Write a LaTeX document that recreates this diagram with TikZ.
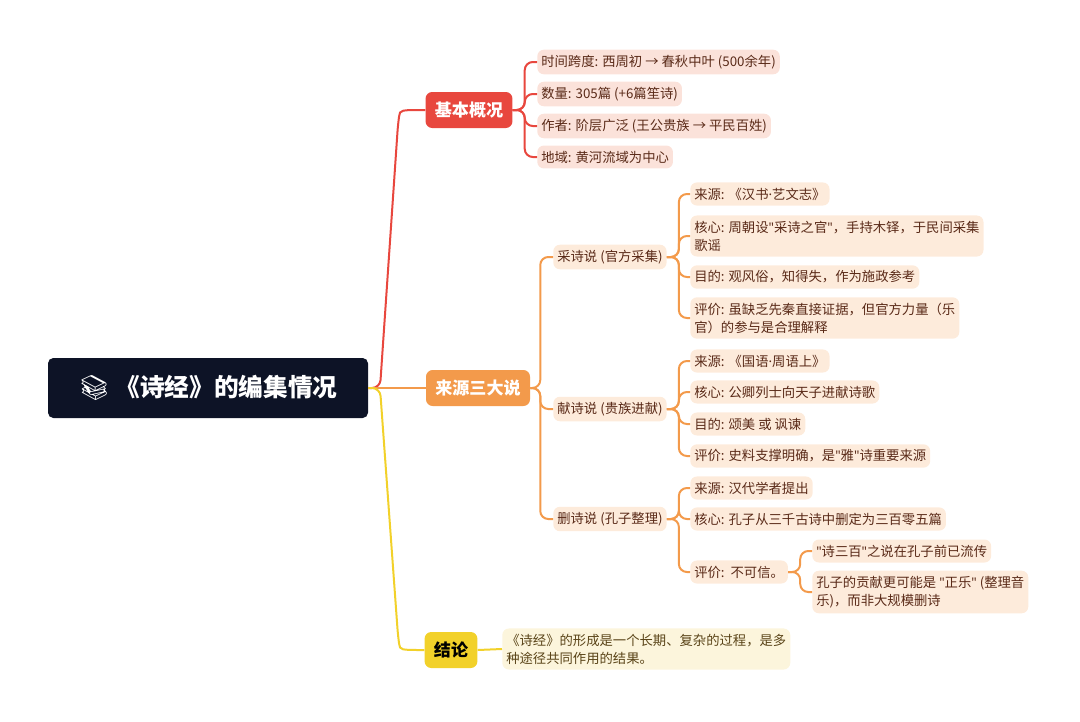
\documentclass[tikz,border=0pt]{standalone}
\usepackage{fontspec}
\setmainfont{Noto Sans CJK SC}
\newfontfamily\emojifont{Noto Emoji}
\newfontfamily\latinfont{Noto Sans}
\newcommand{\qq}{{\latinfont "}}
\newcommand{\dotsep}{{\latinfont ·}}
\definecolor{rootbg}{HTML}{0D1326}
\definecolor{redb}{HTML}{E8473E}
\definecolor{orangeb}{HTML}{F39A4B}
\definecolor{yellowb}{HTML}{F2D12A}
\definecolor{pinkleaf}{HTML}{FBE2DA}
\definecolor{peachleaf}{HTML}{FDEBDB}
\definecolor{creamleaf}{HTML}{FCF5DC}
\definecolor{leaftext}{HTML}{5A2A18}
\definecolor{concltext}{HTML}{5A4418}

\begin{document}
\begin{tikzpicture}[x=0.75pt,y=-0.75pt]
\tikzset{
% root and the three main branches
root node/.style={fill=rootbg,text=white,rounded corners=4pt,minimum width=240pt,minimum height=45pt,font=\fontsize{18.5}{22}\selectfont\bfseries},
branch node/.style={rounded corners=5pt,text=white,minimum height=27pt,inner xsep=7pt,font=\fontsize{12.8}{15}\selectfont\bfseries},
% leaves of each branch
leaf node/.style={anchor=west,rounded corners=5pt,text=leaftext,inner xsep=3pt,inner ysep=4pt,align=left,font=\fontsize{10}{13.5}\selectfont},
red leaf/.style={leaf node,fill=pinkleaf},
orange leaf/.style={leaf node,fill=peachleaf},
link/.style={line width=1.5pt,rounded corners=6pt}
}
\useasboundingbox (0,0) rectangle (1080,721);

% main nodes
\node (root)[root node] at (208,388) {{\emojifont 📚} 《诗经》的编集情况};
\node (j)[branch node,fill=redb] at (469,110) {基本概况};
\node (ly)[branch node,fill=orangeb] at (478,388) {来源三大说};
\node (jl)[branch node,fill=yellowb,text=black] at (451,650) {结论};

% basic facts
\node (j1)[red leaf] at (537,62) {时间跨度: 西周初 → 春秋中叶 (500余年)};
\node (j2)[red leaf] at (537,94) {数量: 305篇 (+6篇笙诗)};
\node (j3)[red leaf] at (537,126) {作者: 阶层广泛 (王公贵族 → 平民百姓)};
\node (j4)[red leaf] at (537,157) {地域: 黄河流域为中心};

% three theories
\node (c)[orange leaf] at (553,257) {采诗说 (官方采集)};
\node (x)[orange leaf] at (553,409) {献诗说 (贵族进献)};
\node (s)[orange leaf] at (553,519) {删诗说 (孔子整理)};

\node (c1)[orange leaf] at (690,194) {来源: 《汉书\dotsep 艺文志》};
\node (c2)[orange leaf] at (690,236) {核心: 周朝设\qq 采诗之官\qq ，手持木铎，于民间采集\\歌谣};
\node (c3)[orange leaf] at (690,277) {目的: 观风俗，知得失，作为施政参考};
\node (c4)[orange leaf] at (690,318) {评价: 虽缺乏先秦直接证据，但官方力量（乐\\官）的参与是合理解释};

\node (x1)[orange leaf] at (690,361) {来源: 《国语\dotsep 周语上》};
\node (x2)[orange leaf] at (690,392) {核心: 公卿列士向天子进献诗歌};
\node (x3)[orange leaf] at (690,424) {目的: 颂美 或 讽谏};
\node (x4)[orange leaf] at (690,456) {评价: 史料支撑明确，是\qq 雅\qq 诗重要来源};

\node (s1)[orange leaf] at (690,488) {来源: 汉代学者提出};
\node (s2)[orange leaf] at (690,519) {核心: 孔子从三千古诗中删定为三百零五篇};
\node (s3)[orange leaf] at (690,572) {评价:\ \ 不可信。};
\node (s31)[orange leaf] at (812,551) {\qq 诗三百\qq 之说在孔子前已流传};
\node (s32)[orange leaf] at (812,592) {孔子的贡献更可能是 \qq 正乐\qq\ (整理音\\乐)，而非大规模删诗};

% conclusion
\node (jl1)[leaf node,fill=creamleaf,text=concltext] at (502,649) {《诗经》的形成是一个长期、复杂的过程，是多\\种途径共同作用的结果。};

% root connectors
\draw[link,redb] (root.east) -- (380,388) -- (398,124) .. controls (400,110) .. (j.west);
\draw[link,orangeb] (root.east) -- (ly.west);
\draw[link,yellowb] (root.east) -- (380,388) -- (398,636) .. controls (400,650) .. (jl.west);

% branch connectors
\foreach \n in {j1,j2,j3,j4}
  \draw[link,redb] (j.east) -- ++(12,0) |- (\n.west);
\foreach \n in {c,x,s}
  \draw[link,orangeb] (ly.east) -- ++(10,0) |- (\n.west);
\foreach \n in {c1,c2,c3,c4}
  \draw[link,orangeb] (c.east) -- ++(12,0) |- (\n.west);
\foreach \n in {x1,x2,x3,x4}
  \draw[link,orangeb] (x.east) -- ++(12,0) |- (\n.west);
\foreach \n in {s1,s2,s3}
  \draw[link,orangeb] (s.east) -- ++(12,0) |- (\n.west);
\foreach \n in {s31,s32}
  \draw[link,orangeb] (s3.east) -- ++(12,0) |- (\n.west);
\draw[link,yellowb] (jl.east) -- (jl1.west);
\end{tikzpicture}
\end{document}
